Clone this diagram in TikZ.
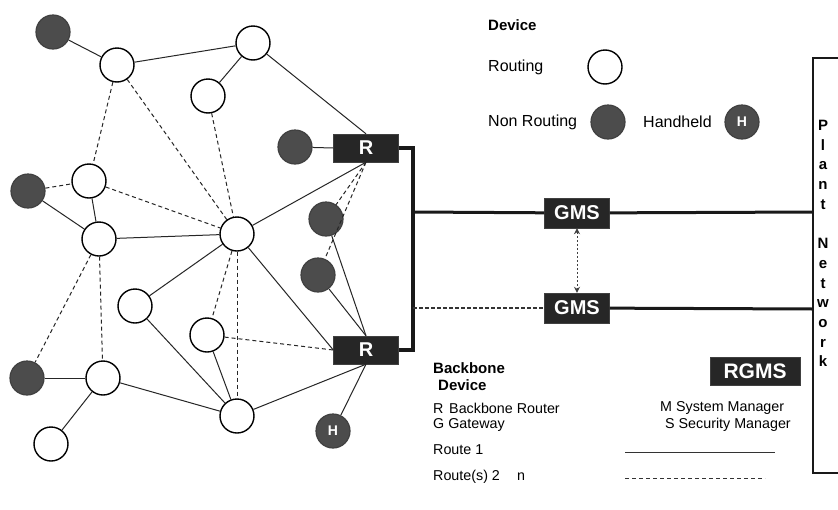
\documentclass[tikz,border=0pt]{standalone}
\usepackage{fontspec}
\setmainfont{Liberation Sans}
\usetikzlibrary{arrows.meta}
\tikzset{
  rnode/.style={circle, draw=black, line width=1.4pt, fill=white, minimum size=34pt, inner sep=0pt},
  nrnode/.style={circle, draw=black!75, line width=1.2pt, fill=black!70, minimum size=34pt, inner sep=0pt},
  hnode/.style={nrnode, text=white, font=\bfseries\fontsize{14}{14}\selectfont},
  bbox/.style={rectangle, draw=black!75, fill=black!85, text=white, font=\bfseries\fontsize{20}{20}\selectfont, minimum width=65pt, minimum height=28pt, inner sep=0pt},
  link/.style={draw=black!85, line width=1pt},
  dlink/.style={link, dash pattern=on 4pt off 3pt},
  bus/.style={draw=black!90, line width=3.4pt},
  trunk/.style={draw=black!90, line width=3pt},
  legtop/.style={anchor=west, inner sep=0pt, font=\fontsize{16}{18}\selectfont},
  legbot/.style={anchor=west, inner sep=0pt, font=\fontsize{14.3}{17}\selectfont},
}
\begin{document}
\begin{tikzpicture}[x=1pt,y=-1pt]
\useasboundingbox[fill=white] (0,0) rectangle (838,509);

% mesh devices
\node[nrnode] (n1) at (53,32) {};
\node[rnode] (n2) at (117,65) {};
\node[rnode] (n3) at (253,43) {};
\node[rnode] (n4) at (208,96) {};
\node[nrnode] (n5) at (28,191) {};
\node[rnode] (n6) at (89,181) {};
\node[rnode] (n7) at (99,239) {};
\node[rnode] (n8) at (237,234) {};
\node[rnode] (n9) at (135,306) {};
\node[rnode] (n10) at (207,335) {};
\node[nrnode] (n11) at (27,378) {};
\node[rnode] (n12) at (103,378) {};
\node[rnode] (n13) at (51,444) {};
\node[rnode] (n14) at (237,416) {};
\node[nrnode] (n15) at (295,147) {};
\node[nrnode] (n16) at (326,219) {};
\node[nrnode] (n17) at (318,275) {};
\node[hnode] (hh) at (333,431) {H};

% backbone routers
\node[bbox] (R1) at (366,148) {R};
\node[bbox] (R2) at (366,350) {R};

% solid routes
\draw[link] (n1) -- (n2);
\draw[link] (n2) -- (n3);
\draw[link] (n3) -- (n4);
\draw[link] (n3) -- (R1.north);
\draw[link] (n15) -- (R1.west);
\draw[link] (n5) -- (n7);
\draw[link] (n6) -- (n7);
\draw[link] (n7) -- (n8);
\draw[link] (n8) -- (R1.south);
\draw[link] (n8) -- (R2.west);
\draw[link] (n9) -- (n8);
\draw[link] (n9) -- (n14);
\draw[link] (n10) -- (n14);
\draw[link] (n11) -- (n12);
\draw[link] (n12) -- (n14);
\draw[link] (n12) -- (n13);
\draw[link] (n14) -- (R2.south);
\draw[link] (hh) -- (R2.south);
\draw[link] (n16) -- (R2.north);
\draw[link] (n17) -- (R2.north);
% dashed routes
\draw[dlink] (n2) -- (n6);
\draw[dlink] (n2) -- (n8);
\draw[dlink] (n4) -- (n8);
\draw[dlink] (n5) -- (n6);
\draw[dlink] (n6) -- (n8);
\draw[dlink] (n7) -- (n11);
\draw[dlink] (n7) -- (n12);
\draw[dlink] (n8) -- (n10);
\draw[dlink] (n8) -- (n14);
\draw[dlink] (n10) -- (R2.west);
\draw[dlink] (R1.south) -- (n16);
\draw[dlink] (R1.south) -- (n17);

% backbone bus
\coordinate (b1) at (413,148);
\coordinate (b2) at (413,350);
\coordinate (bT) at (413,212);
\coordinate (bD) at (413,308);
\draw[bus, line join=miter] (R1.east) -- (b1) -- (b2) -- (R2.east);

% gateways / managers
\node[bbox, minimum height=30pt] (G1) at (577,213) {GMS};
\node[bbox, minimum height=30pt] (G2) at (577,308) {GMS};

% plant network
\coordinate (p1) at (850,58);
\coordinate (p2) at (813,58);
\coordinate (p3) at (813,473);
\coordinate (p4) at (850,473);
\coordinate (pT) at (813,212);
\coordinate (pD) at (813,309);
\draw[draw=black!90, line width=1.6pt] (p1) -- (p2) -- (p3) -- (p4);
\node[anchor=north, inner sep=0pt, align=center, font=\bfseries\fontsize{15}{19.7}\selectfont] (plant) at (823,120)
  {P\\l\\a\\n\\t\\[19.7pt]N\\e\\t\\w\\o\\r\\k};

\draw[trunk] (bT) -- (G1) -- (pT);
\draw[draw=black!80, line width=2.4pt, dash pattern=on 4pt off 2pt] (bD) -- (G2);
\draw[trunk] (G2) -- (pD);
\draw[draw=black!75, line width=1pt, dash pattern=on 2pt off 2pt,
      {Stealth[length=6pt,width=6pt]}-{Stealth[length=6pt,width=6pt]}] (G1) -- (G2);

% legend: devices
\node[legtop, font=\bfseries\fontsize{15}{18}\selectfont] (tDev) at (488,25) {Device};
\node[legtop] (tRout) at (488,67) {Routing};
\node[rnode] (lR) at (605,67) {};
\node[legtop] (tNon) at (488,122) {Non Routing};
\node[nrnode] (lN) at (608,122) {};
\node[legtop] (tHand) at (643,122) {Handheld};
\node[hnode] (lH) at (742,122) {H};

% legend: backbone
\node[legbot, font=\bfseries\fontsize{15}{17}\selectfont] (tBb) at (433,368) {Backbone};
\node[legbot, font=\bfseries\fontsize{15}{17}\selectfont] (tBd) at (438,385) {Device};
\node[legbot] (tR) at (433,408) {R\hspace{0.4em}Backbone Router};
\node[legbot] (tG) at (433,425) {G Gateway};
\node[legbot] (tM) at (660,408) {M System Manager};
\node[legbot] (tS) at (665,425) {S Security Manager};
\node[legbot] (tR1) at (433,450) {Route 1};
\node[legbot] (tR2) at (433,477) {Route(s) 2\hspace{1.2em}n};
\node[bbox, minimum width=90pt, font=\bfseries\fontsize{21}{21}\selectfont] (RG) at (755,371) {RGMS};

\coordinate (s1) at (625,452);
\coordinate (s2) at (775,452);
\coordinate (d1) at (625,478);
\coordinate (d2) at (765,478);
\draw[draw=black!80, line width=1pt] (s1) -- (s2);
\draw[draw=black!80, line width=1pt, dash pattern=on 4pt off 3pt] (d1) -- (d2);
\end{tikzpicture}
\end{document}
